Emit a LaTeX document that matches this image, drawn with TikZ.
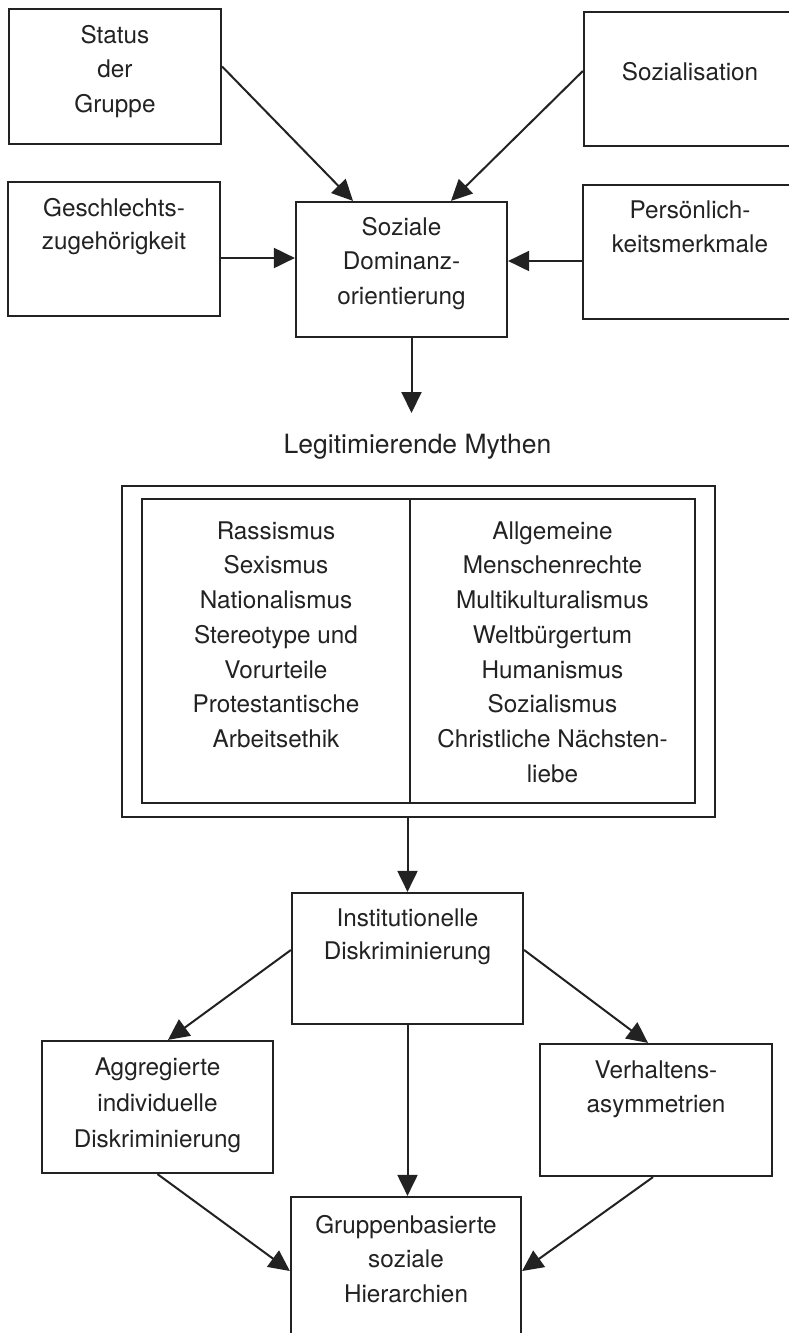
\documentclass[tikz,border=0pt]{standalone}
\usepackage{fontspec}
\setmainfont{TeX Gyre Heros}
\usetikzlibrary{arrows.meta,calc}
\definecolor{ink}{HTML}{222222}
\newcommand\mystrut{\rule{0pt}{20pt}}
\begin{document}
\begin{tikzpicture}[x=1pt,y=-1pt,
  box/.style={draw=ink, line width=2.2pt, rectangle, inner sep=0pt},
  txt/.style={align=center, anchor=north, inner sep=0pt, text=ink,
    font=\fontsize{24.3}{34.5}\selectfont},
  arr/.style={draw=ink, line width=2pt, -{Triangle[length=21pt,width=20pt]}}]
\useasboundingbox (0,0) rectangle (789,1333);
\fill[white] (0,0) rectangle (789,1333);
\begin{scope}
\clip (0,0) rectangle (789,1333);
% boxes
\node[box, minimum width=212pt, minimum height=135pt] (status) at (115,76.5) {};
\node[box, minimum width=213pt, minimum height=134pt] (sozial) at (690.5,79) {};
\node[box, minimum width=212pt, minimum height=134pt] (geschl) at (114,249) {};
\node[box, minimum width=211pt, minimum height=135pt] (soziale) at (401.5,269.5) {};
\node[box, minimum width=214pt, minimum height=134pt] (pers) at (690,252) {};
\node[box, minimum width=593pt, minimum height=331pt] (outer) at (418.5,651.5) {};
\node[box, minimum width=553pt, minimum height=304pt] (inner) at (418.5,651) {};
\coordinate (divtop) at (410,499);
\coordinate (divbot) at (410,803);
\draw[draw=ink, line width=2.2pt] (divtop) -- (divbot);
\node[box, minimum width=231pt, minimum height=131pt] (inst) at (407.5,958.5) {};
\node[box, minimum width=231pt, minimum height=132pt] (aggr) at (157.5,1107) {};
\node[box, minimum width=232pt, minimum height=132pt] (verh) at (656,1110) {};
\node[box, minimum width=230pt, minimum height=148pt] (grup) at (406,1271) {};
% texts
\node[txt] (status-t) at (115,23) {\mystrut Status\\der\\Gruppe};
\node[txt] (sozial-t) at (690,60) {\mystrut Sozialisation};
\node[txt, font=\fontsize{24.3}{33.5}\selectfont] (geschl-t) at (114,196) {\mystrut Geschlechts-\\zugehörigkeit};
\node[txt] (soziale-t) at (401.5,215) {\mystrut Soziale\\Dominanz-\\orientierung};
\node[txt] (pers-t) at (690,198) {\mystrut Persönlich-\\keitsmerkmale};
\node[anchor=base, inner sep=0pt, text=ink, font=\fontsize{26.5}{30}\selectfont] (mythen) at (417.5,453) {Legitimierende Mythen};
\node[txt, font=\fontsize{24.3}{34.7}\selectfont] (left-t) at (276,519) {\mystrut Rassismus\\Sexismus\\Nationalismus\\Stereotype und\\Vorurteile\\Protestantische\\Arbeitsethik};
\node[txt, font=\fontsize{24.3}{34.7}\selectfont] (right-t) at (552.5,519) {\mystrut Allgemeine\\Menschenrechte\\Multikulturalismus\\Weltbürgertum\\Humanismus\\Sozialismus\\Christliche Nächsten-\\liebe};
\node[txt, font=\fontsize{24.3}{33.5}\selectfont] (inst-t) at (407.5,906) {\mystrut Institutionelle\\Diskriminierung};
\node[txt, font=\fontsize{24.3}{36}\selectfont] (aggr-t) at (157.5,1055) {\mystrut Aggregierte\\individuelle\\Diskriminierung};
\node[txt] (verh-t) at (656,1058) {\mystrut Verhaltens-\\asymmetrien};
\node[txt] (grup-t) at (406,1213) {\mystrut Gruppenbasierte\\soziale\\Hierarchien};
% connectors
\draw[arr] ([yshift=10pt]status.east) -- ([xshift=-48.5pt]soziale.north);
\draw[arr] ([yshift=8pt]sozial.west) -- ([xshift=49.5pt]soziale.north);
\draw[arr] ([yshift=-9pt]geschl.east) coordinate (g1) -- (g1 -| soziale.west);
\draw[arr] ([yshift=-9pt]pers.west) coordinate (p1) -- (p1 -| soziale.east);
\coordinate (mtip) at (411.5,413);
\draw[arr] (mtip |- soziale.south) -- (mtip);
\draw[arr] (inst.north |- outer.south) -- (inst.north);
\draw[arr] ([yshift=8.5pt]inst.west) -- ([xshift=10.5pt]aggr.north);
\draw[arr] ([yshift=8.5pt]inst.east) -- ([xshift=-8pt]verh.north);
\draw[arr] (inst.south) -- (inst.south |- grup.north);
\draw[arr] (aggr.south) -- (grup.west);
\draw[arr] ([xshift=-3pt]verh.south) -- (grup.east);
\end{scope}
\end{tikzpicture}
\end{document}
